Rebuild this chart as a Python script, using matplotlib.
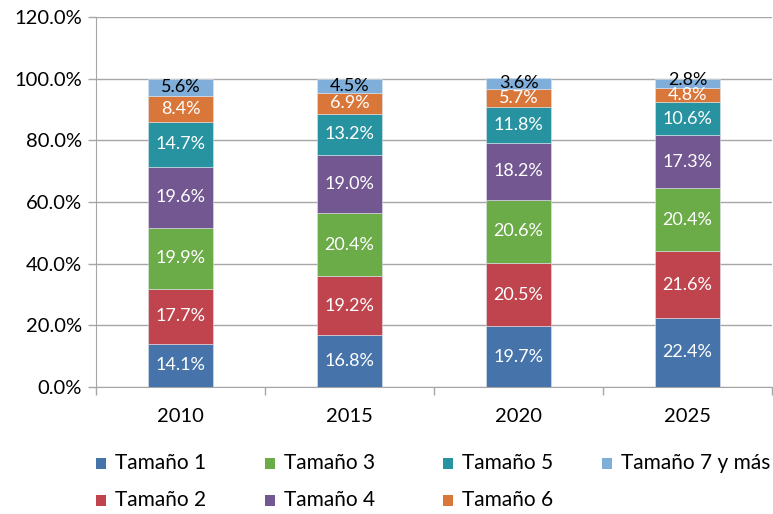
import matplotlib
matplotlib.use("Agg")
import matplotlib.pyplot as plt
from matplotlib.patches import Rectangle
import numpy as np

plt.rcParams['font.family'] = ['Lato', 'DejaVu Sans']

years = ["2010", "2015", "2020", "2025"]
series_names = ["Tamaño 1", "Tamaño 2", "Tamaño 3", "Tamaño 4", "Tamaño 5", "Tamaño 6", "Tamaño 7 y más"]
t1 = [14.1, 16.8, 19.7, 22.4]
t2 = [17.7, 19.2, 20.5, 21.6]
t3 = [19.9, 20.4, 20.6, 20.4]
t4 = [19.6, 19.0, 18.2, 17.3]
t5 = [14.7, 13.2, 11.8, 10.6]
t6 = [8.4, 6.9, 5.7, 4.8]
t7 = [5.6, 4.5, 3.6, 2.8]
series = [t1, t2, t3, t4, t5, t6, t7]
colors = ["#4674AA", "#C0444D", "#6BAB48", "#725791", "#2793A0", "#D9773A", "#80AEDA"]
label_colors = ["white"] * 6 + ["black"]

W, H = 773, 514
fig = plt.figure(figsize=(W / 100, H / 100), dpi=100)
ax = fig.add_axes([96 / W, 1 - 387 / H, 676 / W, 370 / H])

x = np.arange(len(years))
bottom = np.zeros(len(years))
prev_label = np.full(len(years), -100.0)
for vals, c, lc, name in zip(series, colors, label_colors, series_names):
    vals = np.array(vals)
    ax.bar(x, vals, 0.39, bottom=bottom, color=c, edgecolor="#dfe3ea",
           linewidth=0.4, label=name, zorder=3)
    ly = np.maximum(bottom + vals / 2, prev_label + 5.0)
    for xi, v, yy in zip(x, vals, ly):
        ax.text(xi, yy, f"{v:.1f}%", ha="center", va="center",
                color=lc, fontsize=13, zorder=4)
    prev_label = ly
    bottom += vals

ax.set_xlim(-0.5, 3.5)
ax.set_ylim(0, 120)
yt = np.arange(0, 121, 20)
ax.set_yticks(yt)
ax.set_yticklabels([f"{v:.1f}%" for v in yt], fontsize=14.5)
ax.yaxis.grid(True, color="#a6a6a6", linewidth=1.0, zorder=0)
ax.set_axisbelow(True)

ax.set_xticks(x)
ax.set_xticklabels(years, fontsize=14.5)
ax.tick_params(axis="x", length=0, pad=15)
ax.set_xticks(np.arange(-0.5, 3.6, 1), minor=True)
ax.tick_params(axis="x", which="minor", length=6, color="#a6a6a6", width=1)
ax.tick_params(axis="y", length=6, color="#a6a6a6", width=1, pad=4)

for s in ["top", "right"]:
    ax.spines[s].set_visible(False)
ax.spines["left"].set_color("#a6a6a6")
ax.spines["bottom"].set_color("#a6a6a6")

# legend, laid out column-wise like the original (2 rows x 4 columns)
col_x = [96, 265, 443, 602]
row_y = [463, 500]
for i, (name, c) in enumerate(zip(series_names, colors)):
    cx = col_x[i // 2]
    cy = row_y[i % 2]
    fig.patches.append(Rectangle((cx / W, 1 - (cy + 5.5) / H), 10 / W, 11 / H,
                                 transform=fig.transFigure, facecolor=c,
                                 edgecolor="none"))
    fig.text((cx + 19) / W, 1 - cy / H, name, ha="left", va="center",
             fontsize=15, color="black")

fig.savefig("out.png", dpi=100)
